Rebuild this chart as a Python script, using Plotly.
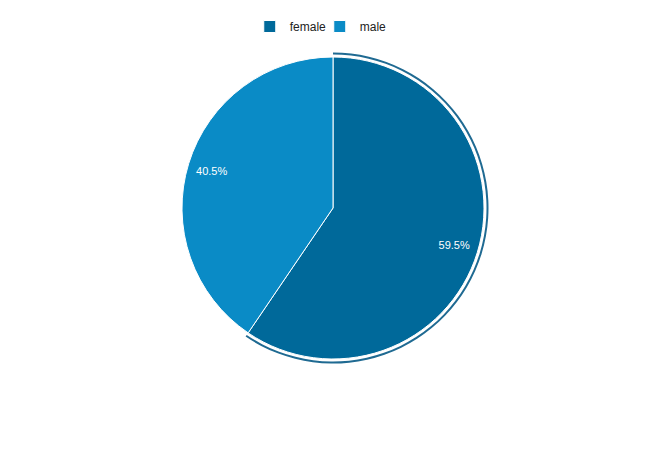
import plotly.graph_objects as go

labels = ["female", "male"]
shares = [59.5, 40.5]
colors = ["#00699a", "#0a8bc6"]

W, H = 669, 450
# pie centre and radius in pixels (page body adds an 8px offset)
CX, CY, R = 325, 200, 151
RING_IN, RING_OUT = 153.5, 155.5
LABEL_HOLE = 0.68  # puts the percentage labels out near the rim


def dom(r):
    return dict(
        x=[(CX - r) / W, (CX + r) / W],
        y=[(H - CY - r) / H, (H - CY + r) / H],
    )


common = dict(labels=labels, values=shares, sort=False,
              direction="clockwise", rotation=0)

fig = go.Figure()

fig.add_trace(go.Pie(
    **common,
    domain=dom(R),
    marker=dict(colors=colors, line=dict(color="white", width=1)),
    textinfo="none",
    hoverinfo="label+percent",
))

# transparent donut that only carries the labels
fig.add_trace(go.Pie(
    **common,
    domain=dom(R),
    hole=LABEL_HOLE,
    marker=dict(colors=["rgba(0,0,0,0)"] * 2, line=dict(width=0)),
    texttemplate="%{percent:.1%}",
    textposition="inside",
    insidetextorientation="horizontal",
    textfont=dict(color="white", size=11, family="Liberation Sans, Arial, sans-serif"),
    hoverinfo="skip",
    showlegend=False,
))

# outline ring around the selected slice
fig.add_trace(go.Pie(
    **common,
    domain=dom(RING_OUT),
    hole=RING_IN / RING_OUT,
    marker=dict(colors=["#1f6a92", "rgba(0,0,0,0)"], line=dict(width=0)),
    textinfo="none",
    hoverinfo="skip",
    showlegend=False,
))

fig.update_layout(
    width=W,
    height=H,
    margin=dict(l=0, r=0, t=0, b=0),
    paper_bgcolor="white",
    plot_bgcolor="white",
    font=dict(family="Liberation Sans, Arial, sans-serif", size=12, color="#222222"),
    legend=dict(
        orientation="h",
        x=0.466,
        xanchor="center",
        y=1 - 4 / H,
        yanchor="top",
        font=dict(size=12, color="#222222"),
        itemwidth=30,
        entrywidth=25,
        entrywidthmode="pixels",
        traceorder="normal",
    ),
)

fig.write_html("out.html")
